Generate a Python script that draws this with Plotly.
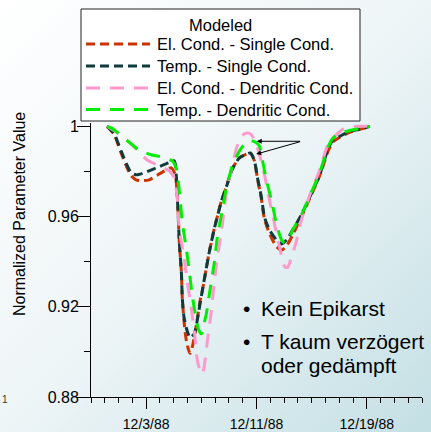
import base64
import pandas as pd
import plotly.graph_objects as go

# ---------------- data (days since 1988-11-29, normalized value) ----------------
BASE_DATE = "1988-11-29"

el_single_days = [1.16, 1.67, 2.18, 2.62, 2.91, 3.27, 3.64, 4.22, 5.09, 5.82, 6.11, 6.25, 6.33, 6.40, 6.55,
                  6.62, 6.73, 6.84, 6.98, 7.18, 7.35, 7.49, 7.71, 7.93, 8.00, 8.29, 8.58, 8.95, 9.45, 9.89,
                  10.25, 10.76, 11.27, 11.56, 11.85, 12.07, 12.36, 12.58, 12.95, 13.45, 13.82, 14.18, 14.62,
                  15.27, 15.85, 16.58, 17.16, 17.53, 18.04, 18.76, 19.49, 20.22]
el_single_vals = [1.0, 0.9965, 0.9882, 0.9816, 0.9781, 0.9763, 0.9759, 0.9763, 0.9794, 0.9816, 0.9785, 0.9698,
                  0.9597, 0.9488, 0.9356, 0.9238, 0.9146, 0.9080, 0.9028, 0.8993, 0.9023, 0.9067, 0.9146,
                  0.9234, 0.9247, 0.9347, 0.9444, 0.9549, 0.9667, 0.9746, 0.9812, 0.9860, 0.9877, 0.9882,
                  0.9847, 0.9768, 0.9676, 0.9588, 0.9523, 0.9466, 0.9452, 0.9470, 0.9518, 0.9601, 0.9680,
                  0.9781, 0.9886, 0.9930, 0.9952, 0.9974, 0.9987, 1.0]

temp_single_days = [1.16, 1.67, 2.18, 2.91, 3.27, 3.85, 4.73, 5.45, 6.04, 6.18, 6.25, 6.33, 6.40, 6.55, 6.62,
                    6.73, 6.91, 7.18, 7.49, 7.78, 8.00, 8.29, 8.58, 8.95, 9.45, 9.89, 10.25, 10.76, 11.27,
                    11.56, 11.85, 12.07, 12.36, 12.58, 12.95, 13.45, 13.82, 14.18, 14.62, 15.27, 15.85, 16.58,
                    17.16, 17.53, 18.04, 18.76, 19.49, 20.22]
temp_single_vals = [1.0, 0.9969, 0.9891, 0.9794, 0.9785, 0.9794, 0.9816, 0.9834, 0.9847, 0.9785, 0.9698,
                    0.9597, 0.9488, 0.9356, 0.9238, 0.9159, 0.9106, 0.9063, 0.9080, 0.9168, 0.9247, 0.9347,
                    0.9444, 0.9549, 0.9667, 0.9746, 0.9812, 0.9860, 0.9877, 0.9882, 0.9847, 0.9772, 0.9685,
                    0.9597, 0.9540, 0.9496, 0.9479, 0.9496, 0.9540, 0.9610, 0.9685, 0.9785, 0.9895, 0.9939,
                    0.9956, 0.9978, 0.9987, 1.0]

el_dendritic_days = [1.16, 1.89, 2.76, 3.49, 4.07, 4.95, 5.67, 6.04, 6.25, 6.40, 6.76, 6.98, 7.27, 7.49, 7.71,
                     7.93, 8.07, 8.22, 8.44, 8.73, 8.87, 9.09, 9.45, 9.82, 10.04, 10.33, 10.55, 10.91, 11.20,
                     11.49, 11.71, 12.00, 12.22, 12.58, 12.95, 13.31, 13.67, 14.04, 14.25, 14.55, 14.91, 15.27,
                     15.85, 16.58, 17.16, 17.53, 18.25, 19.13, 20.22]
el_dendritic_vals = [1.0, 0.9974, 0.9930, 0.9886, 0.9851, 0.9825, 0.9803, 0.9772, 0.9685, 0.9544, 0.9413,
                     0.9312, 0.9194, 0.9093, 0.8962, 0.8914, 0.8901, 0.8940, 0.9050, 0.9181, 0.9269, 0.9387,
                     0.9531, 0.9707, 0.9772, 0.9847, 0.9904, 0.9956, 0.9969, 0.9969, 0.9956, 0.9917, 0.9873,
                     0.9785, 0.9672, 0.9566, 0.9466, 0.9378, 0.9374, 0.9422, 0.9496, 0.9588, 0.9693, 0.9807,
                     0.9917, 0.9947, 0.9987, 1.0, 1.0]

temp_dendritic_days = [1.16, 1.53, 1.89, 2.33, 2.76, 3.49, 4.44, 5.16, 5.89, 6.18, 6.40, 6.62, 6.91, 7.13,
                       7.35, 7.56, 7.78, 8.00, 8.15, 8.36, 8.58, 8.95, 9.16, 9.53, 9.82, 10.25, 10.76, 11.20,
                       11.61, 11.93, 12.22, 12.44, 12.73, 13.09, 13.45, 13.82, 14.04, 14.33, 14.62, 15.27,
                       15.85, 16.58, 17.16, 17.53, 18.04, 18.76, 19.49, 20.22]
temp_dendritic_vals = [1.0, 0.9991, 0.9974, 0.9952, 0.9930, 0.9895, 0.9873, 0.9864, 0.9847, 0.9816, 0.9715,
                       0.9575, 0.9457, 0.9356, 0.9247, 0.9168, 0.9102, 0.9080, 0.9115, 0.9168, 0.9255, 0.9400,
                       0.9509, 0.9632, 0.9728, 0.9825, 0.9891, 0.9926, 0.9936, 0.9930, 0.9912, 0.9847, 0.9759,
                       0.9672, 0.9566, 0.9496, 0.9483, 0.9501, 0.9540, 0.9610, 0.9689, 0.9794, 0.9904, 0.9947,
                       0.9969, 0.9982, 0.9991, 1.0]

series_names = ["El. Cond. - Single Cond.", "Temp. - Single Cond.",
                "El. Cond. - Dendritic Cond.", "Temp. - Dendritic Cond."]
series_colors = ["#cc3300", "#0f3b3b", "#ff99cc", "#00ee00"]
series_dashes = ["9px,5px", "9px,5px", "14px,10px", "14px,10px"]

x_range = ["1988-11-29", "1988-12-23"]
x_tick0 = "1988-12-03"
y_range = [0.88, 1.0015]

# arrows: (head_day, head_val), tail
arrow_tail = (15.27, 0.9934)
arrow_heads = [(12.02, 0.9934), (11.98, 0.9877)]

bullet_lines = ["Kein Epikarst", "T kaum verzögert", "oder gedämpft"]
y_title = "Normalized Parameter Value"
legend_title = "Modeled"

FONT = "Liberation Sans"


def to_dates(days):
    return pd.Timestamp(BASE_DATE) + pd.to_timedelta(days, unit="D")


all_days = [el_single_days, temp_single_days, el_dendritic_days, temp_dendritic_days]
all_vals = [el_single_vals, temp_single_vals, el_dendritic_vals, temp_dendritic_vals]

fig = go.Figure()
for name, d, v, c, dash in zip(series_names, all_days, all_vals, series_colors, series_dashes):
    fig.add_trace(go.Scatter(
        x=to_dates(d), y=v, mode="lines", name=name, showlegend=False,
        line=dict(color=c, width=3, dash=dash, shape="spline", smoothing=0.6),
    ))

W, H = 431, 432
L, R, T, B = 91, 9, 123, 35
PW, PH = W - L - R, H - T - B


def px(x):
    return (x - L) / PW


def py(y):
    return (H - B - y) / PH


# background gradient via svg data uri
svg = ('<svg xmlns="http://www.w3.org/2000/svg" width="431" height="432" preserveAspectRatio="none">'
       '<defs><linearGradient id="g" x1="0" y1="0" x2="1" y2="1">'
       '<stop offset="0" stop-color="#ffffff"/><stop offset="0.5" stop-color="#eef5f7"/>'
       '<stop offset="1" stop-color="#c3dfe4"/></linearGradient></defs>'
       '<rect width="431" height="432" fill="url(#g)"/></svg>')
src = "data:image/svg+xml;base64," + base64.b64encode(svg.encode()).decode()

annotations = []
shapes = []

# ---- legend drawn as a box with samples and labels ----
shapes.append(dict(type="rect", xref="paper", yref="paper", x0=px(81), x1=px(360), y0=py(121), y1=py(9),
                   fillcolor="white", line=dict(color="#222", width=1), layer="above"))
annotations.append(dict(text=legend_title, xref="paper", yref="paper", x=px(220), y=py(25), showarrow=False,
                        xanchor="center", yanchor="middle", font=dict(size=16.5, family=FONT, color="black")))
legend_rows = [44, 66, 88, 109.5]
for name, c, dash, ry in zip(series_names, series_colors, series_dashes, legend_rows):
    shapes.append(dict(type="line", xref="paper", yref="paper", x0=px(86), x1=px(150), y0=py(ry), y1=py(ry),
                       line=dict(color=c, width=3, dash=dash), layer="above"))
    annotations.append(dict(text=name, xref="paper", yref="paper", x=px(155), y=py(ry), showarrow=False,
                            xanchor="left", yanchor="middle", font=dict(size=16.5, family=FONT, color="black")))

# y-axis title
annotations.append(dict(text=y_title, xref="paper", yref="paper", x=px(19), y=py(214),
                        textangle=-90, showarrow=False, font=dict(size=16, family=FONT, color="black"),
                        xanchor="center", yanchor="middle"))
# arrows
for hx, hy in arrow_heads:
    annotations.append(dict(x=to_dates(hx), y=hy, ax=to_dates(arrow_tail[0]), ay=arrow_tail[1],
                            xref="x", yref="y", axref="x", ayref="y", text="", showarrow=True,
                            arrowhead=2, arrowsize=1, arrowwidth=1, arrowcolor="black", standoff=0))
# bullet text
line_y = [308, 341.5, 365.5]
for t, yy in zip(bullet_lines, line_y):
    annotations.append(dict(text=t, xref="paper", yref="paper", x=px(259), y=py(yy), showarrow=False,
                            xanchor="left", yanchor="middle", font=dict(size=21, family=FONT, color="black")))
for yy in [line_y[0], line_y[1]]:
    annotations.append(dict(text="•", xref="paper", yref="paper", x=px(246), y=py(yy), showarrow=False,
                            xanchor="center", yanchor="middle", font=dict(size=21, family=FONT, color="black")))
# small stray glyph at bottom-left
annotations.append(dict(text="1", xref="paper", yref="paper", x=px(0), y=py(399), showarrow=False,
                        xanchor="left", yanchor="middle", font=dict(size=10, family=FONT, color="#333")))

fig.update_layout(
    width=W, height=H, margin=dict(l=L, r=R, t=T, b=B, autoexpand=False),
    paper_bgcolor="white", plot_bgcolor="rgba(0,0,0,0)",
    font=dict(family=FONT, color="black"),
    images=[dict(source=src, xref="paper", yref="paper", x=px(0), y=py(0), sizex=W / PW, sizey=H / PH,
                 xanchor="left", yanchor="top", sizing="stretch", layer="below")],
    showlegend=False,
    annotations=annotations,
    shapes=shapes,
    xaxis=dict(type="date", range=x_range, tick0=x_tick0, dtick=8 * 86400000, tickformat="%-m/%-d/%y",
               ticks="outside", ticklen=11, tickcolor="black", tickwidth=1, showline=True, linecolor="black",
               linewidth=1, showgrid=False, zeroline=False, tickfont=dict(size=14, family=FONT),
               ticklabelstandoff=3,
               minor=dict(dtick=86400000, tick0=x_range[0], ticks="outside", ticklen=5, tickcolor="black",
                          showgrid=False)),
    yaxis=dict(range=y_range, tick0=0.88, dtick=0.04, ticks="outside", ticklen=13, tickcolor="black",
               tickwidth=1, showline=True, linecolor="black", linewidth=1, showgrid=False, zeroline=False,
               tickfont=dict(size=16, family=FONT), ticklabelstandoff=-5,
               minor=dict(dtick=0.02, tick0=0.88, ticks="outside", ticklen=6, tickcolor="black",
                          showgrid=False)),
)

fig.write_html("out.html", config={"displayModeBar": False},
               post_script="document.body.style.margin='0';document.body.style.overflow='hidden';")
